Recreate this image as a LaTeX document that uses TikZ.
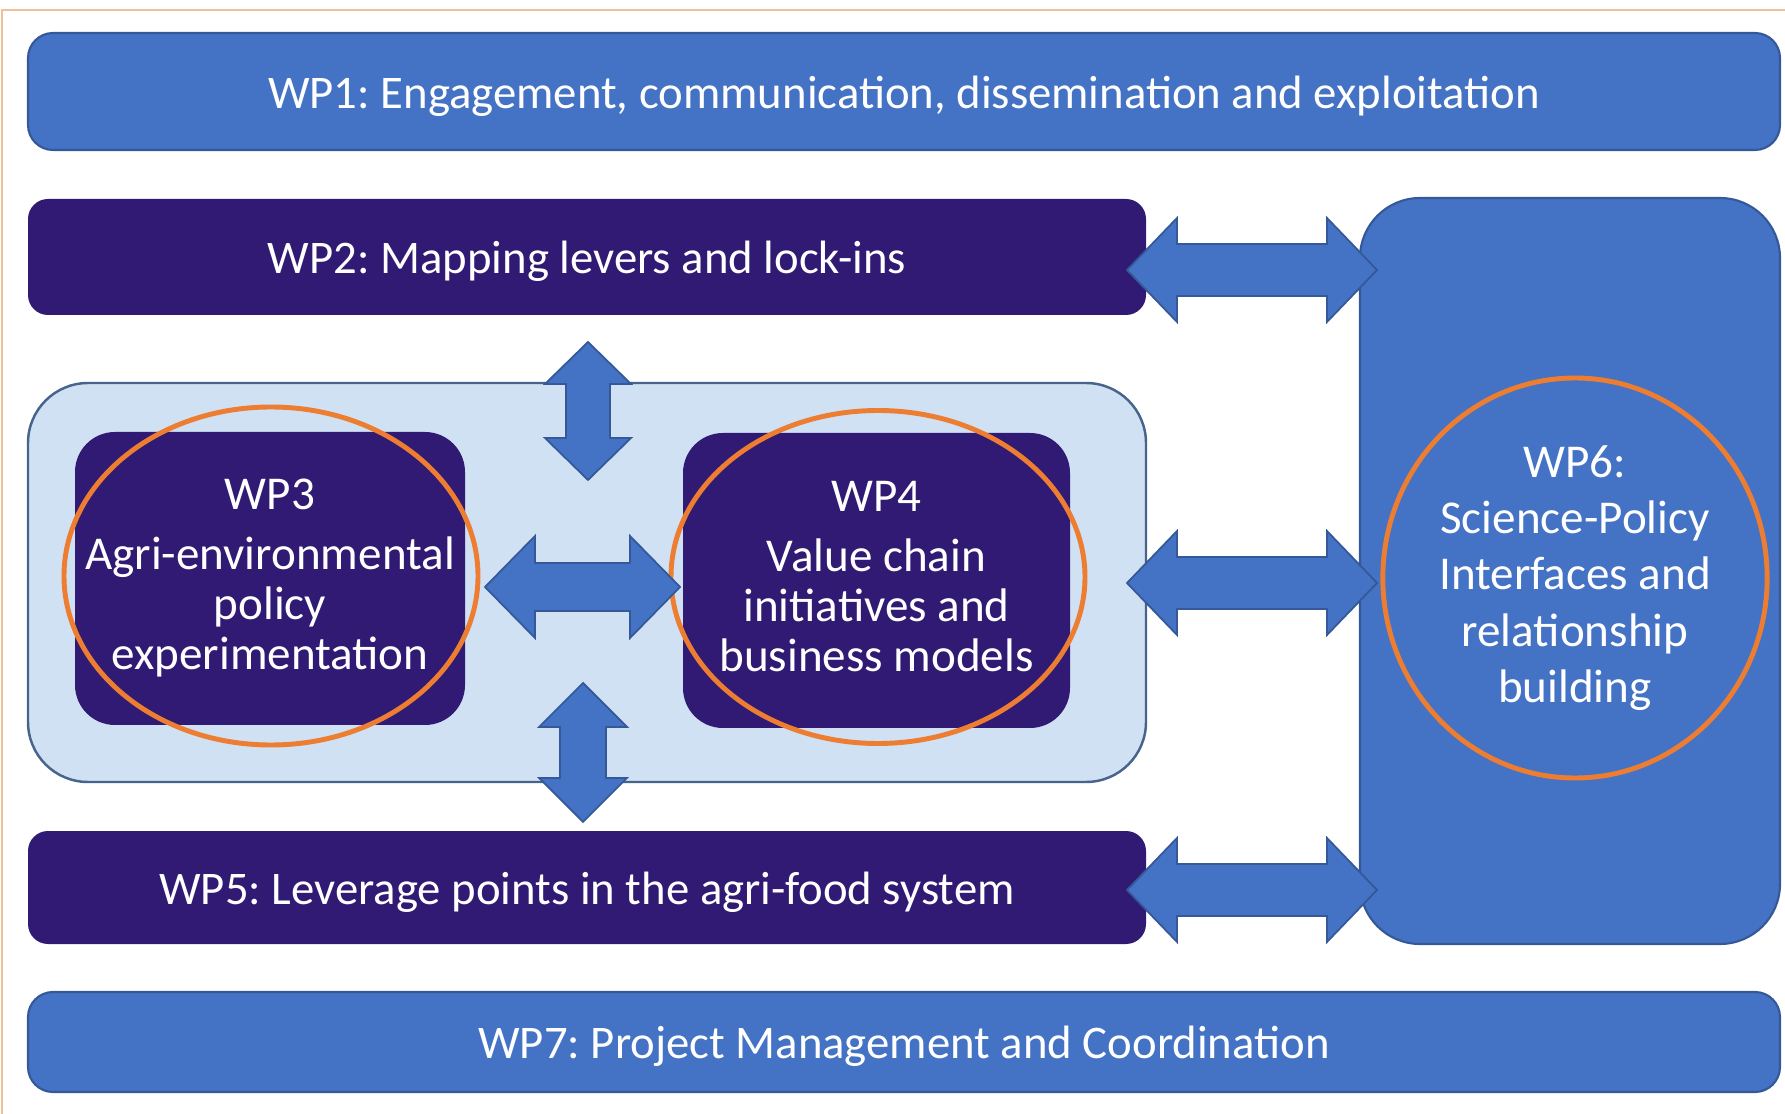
\documentclass[tikz,border=0pt]{standalone}
\usepackage{fontspec}
\setmainfont{Carlito}
\frenchspacing
\usetikzlibrary{calc,shapes.geometric}
\tikzset{kopf/.code args={#1/#2/#3}{\def\kopfl{#1}\def\kopfb{#2}\def\schaftb{#3}}}

\begin{document}
\begin{tikzpicture}[x=0.1mm,y=-0.1mm]
\definecolor{wpblau}{RGB}{68,114,196}
\definecolor{blaurand}{RGB}{52,88,152}
\definecolor{wplila}{RGB}{48,26,116}
\definecolor{hellblau}{RGB}{208,225,243}
\definecolor{hellrand}{RGB}{72,100,140}
\definecolor{ringorange}{RGB}{237,125,49}
\definecolor{rahmenfarbe}{RGB}{240,192,152}
\useasboundingbox (0,0) rectangle (1785,1114);
\draw[rahmenfarbe,line width=0.7pt] (2,10) rectangle (1820,1140); % Rahmen geht rechts/unten aus dem Bild

\tikzstyle{balken}=[rectangle,rounded corners=2.5mm,text=white,inner sep=0pt,text height=9.4pt,text depth=0pt,font=\fontsize{13.3pt}{15pt}\selectfont]
\tikzstyle{blau}=[balken,fill=wpblau,draw=blaurand,line width=0.6pt]
\tikzstyle{lila}=[balken,fill=wplila,rounded corners=2mm]
\tikzstyle{kasten}=[rectangle,fill=wplila,text=white,inner sep=0pt,rounded corners=4mm,align=center,text depth=2.4pt,font=\fontsize{13.4pt}{14.2pt}\selectfont]
\tikzstyle{kreis}=[ellipse,draw=ringorange,line width=1.4pt,inner sep=0pt]
\tikzstyle{doppelpfeil}=[draw=blaurand,fill=wpblau,line width=0.5pt,line join=miter,
  to path={-- ($(\tikztostart)!\kopfl!(\tikztotarget)!\kopfb!90:(\tikztotarget)$)
    -- ($(\tikztostart)!\kopfl!(\tikztotarget)!\schaftb!90:(\tikztotarget)$)
    -- ($(\tikztotarget)!\kopfl!(\tikztostart)!\schaftb!-90:(\tikztostart)$)
    -- ($(\tikztotarget)!\kopfl!(\tikztostart)!\kopfb!-90:(\tikztostart)$)
    -- (\tikztotarget)
    -- ($(\tikztotarget)!\kopfl!(\tikztostart)!\kopfb!90:(\tikztostart)$)
    -- ($(\tikztotarget)!\kopfl!(\tikztostart)!\schaftb!90:(\tikztostart)$)
    -- ($(\tikztostart)!\kopfl!(\tikztotarget)!\schaftb!-90:(\tikztotarget)$)
    -- ($(\tikztostart)!\kopfl!(\tikztotarget)!\kopfb!-90:(\tikztotarget)$)
    -- cycle}]

% hellblauer Hintergrund fuer WP3/WP4
\node[rectangle,rounded corners=6mm,fill=hellblau,draw=hellrand,line width=0.7pt,minimum width=111.8mm,minimum height=39.9mm] (hell) at (587,582.5) {};

\node[blau,minimum width=175.2mm,minimum height=11.7mm] (wp1) at (904,91.5) {WP1: Engagement, communication, dissemination and exploitation};
\node[lila,minimum width=111.8mm,minimum height=11.6mm] (wp2) at (587,257) {WP2: Mapping levers and lock-ins};
\node[lila,minimum width=111.8mm,minimum height=11.3mm] (wp5) at (587,887.5) {WP5: Leverage points in the agri-food system};
\node[blau,minimum width=175.2mm,minimum height=10mm] (wp7) at (904,1042) {WP7: Project Management and Coordination};
\node[blau,rounded corners=6mm,minimum width=42mm,minimum height=74.6mm] (wp6) at (1570,571) {};

\node[kasten,minimum width=39mm,minimum height=29.3mm] (wp3) at (270,578.5) {WP3\\[1mm]Agri-environmental\\policy\\experimentation};
\node[kasten,minimum width=38.7mm,minimum height=29.5mm] (wp4) at (876.5,580.5) {WP4\\[1mm]Value chain\\initiatives and\\business models};

\node[kreis,minimum width=41.4mm,minimum height=33.8mm] (ring3) at (271,576) {};
\node[kreis,minimum width=41.4mm,minimum height=33.3mm] (ring4) at (878,577) {};
\node[kreis,minimum width=36.3mm,minimum height=40mm,text=white,align=center,font=\fontsize{13.4pt}{16pt}\selectfont] (ring6) at (1575,578) {WP6:\\Science-Policy\\Interfaces and\\relationship\\building};

% Pfeilspitzen
\coordinate (p2a) at (1127,270); \coordinate (p2b) at (1377,270);
\coordinate (p4a) at (1127,583); \coordinate (p4b) at (1377,583);
\coordinate (p5a) at (1127,890); \coordinate (p5b) at (1377,890);
\coordinate (p34a) at (485,587); \coordinate (p34b) at (680,587);
\coordinate (poa) at (588,342); \coordinate (pob) at (588,480);
\coordinate (pua) at (583,683); \coordinate (pub) at (583,822);

\draw[doppelpfeil,kopf=5mm/5.2mm/2.6mm] (p2a) to (p2b);
\draw[doppelpfeil,kopf=5mm/5.2mm/2.6mm] (p4a) to (p4b);
\draw[doppelpfeil,kopf=5mm/5.2mm/2.6mm] (p5a) to (p5b);
\draw[doppelpfeil,kopf=5mm/5.1mm/2.4mm] (p34a) to (p34b);
\draw[doppelpfeil,kopf=4.2mm/4.3mm/2.2mm] (poa) to (pob);
\draw[doppelpfeil,kopf=4.4mm/4.4mm/2.3mm] (pua) to (pub);
\end{tikzpicture}
\end{document}
